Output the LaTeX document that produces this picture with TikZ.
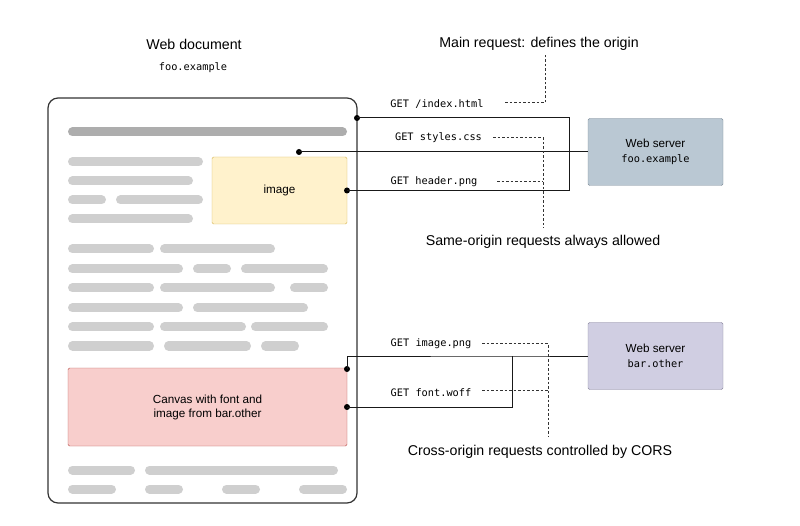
\documentclass[tikz,border=0pt]{standalone}
\usepackage{fontspec}
\setmainfont{Liberation Sans}
\setmonofont{DejaVu Sans Mono}
\usetikzlibrary{positioning,calc}

\definecolor{barlight}{HTML}{CFCFCF}
\definecolor{bardark}{HTML}{ADADAD}
\definecolor{imgfill}{HTML}{FFF2CC}
\definecolor{imgline}{HTML}{D6B656}
\definecolor{cvsfill}{HTML}{F8CECC}
\definecolor{cvsline}{HTML}{B85450}
\definecolor{foofill}{HTML}{BAC8D3}
\definecolor{fooline}{HTML}{7F8C99}
\definecolor{barfill}{HTML}{D0CEE2}
\definecolor{barline}{HTML}{8A879E}

\begin{document}
\begin{tikzpicture}[x=1pt,y=-1pt,
  ttl/.style={font=\fontsize{14.2}{16}\selectfont},
  mono/.style={font=\fontsize{10.3}{12}\ttfamily},
  box/.style={draw,rounded corners=1.5pt,minimum width=135pt,minimum height=67pt,
    align=center,font=\fontsize{11.7}{14}\selectfont},
  dot/.style={circle,fill=black,inner sep=0pt,minimum size=6pt},
  wire/.style={line width=1pt,draw=black!90},
  note/.style={line width=1pt,draw=black!80,dash pattern=on 2.5pt off 2pt},
  ln/.style={line width=9pt,line cap=round,draw=barlight}]

  \useasboundingbox (0,0) rectangle (800,526);

  % the page
  \node[draw=black!80,line width=1.2pt,rounded corners=10pt,
    minimum width=309pt,minimum height=405pt] (doc) at (202.5,300.5) {};
  \node[ttl] (tdoc) at (194,44) {Web document};
  \node[mono] (tdocurl) at (193,68) {foo.example};

  \draw[ln,draw=bardark] (72.5,132) -- (342.5,132);
  \foreach \y/\a/\b in {162/68/203, 181/68/193, 200/68/106, 200/116/203, 219/68/193,
      249/68/154, 249/160/275, 269/68/183, 269/193/231, 269/241/328,
      288/68/154, 288/160/275, 288/290/328, 308/68/183, 308/193/308,
      327/68/154, 327/160/246, 327/251/328, 346/68/154, 346/164/251, 346/261/299,
      470/68/135, 470/145/338, 489/68/116, 489/145/183, 489/222/260, 489/299/347}
    \draw[ln] (\a+4.5,\y) -- (\b-4.5,\y);

  \node[box,fill=imgfill,draw=imgline] (img) at (279.5,190.5) {image};
  \node[box,fill=cvsfill,draw=cvsline,minimum width=279pt,minimum height=78pt]
    (cvs) at (207.5,407) {Canvas with font and\\image from bar.other};

  % servers
  \node[box,fill=foofill,draw=fooline] (srvfoo) at (655.5,152)
    {Web server\\[1pt]\texttt{\fontsize{10.3}{12}\selectfont foo.example}};
  \node[box,fill=barfill,draw=barline] (srvbar) at (655.5,356)
    {Web server\\[1pt]\texttt{\fontsize{10.3}{12}\selectfont bar.other}};

  % same origin
  \node[dot] (didx) at (357,118) {};
  \node[dot] (dcss) at (299,152) {};
  \node[dot] (dhdr) at (347,190.5) {};
  \coordinate (jfoo) at (569,152);
  \draw[wire] (didx.center) -| (jfoo);
  \draw[wire] (dhdr.center) -| (jfoo);
  \draw[wire] (dcss.center) -- (srvfoo.west);

  \node[mono] (lidx) at (437,104) {GET /index.html};
  \node[mono] (lcss) at (438.5,138) {GET styles.css};
  \node[mono] (lhdr) at (434,182) {GET header.png};

  % cross origin
  \node[dot] (dimg) at (347,369) {};
  \node[dot] (dfnt) at (347,407) {};
  \coordinate (jbar) at (512,356);
  \draw[wire] (dimg.center) |- (jbar) -- (srvbar.west);
  \draw[wire] (dfnt.center) -| (jbar);

  \node[mono] (limg) at (431,344) {GET image.png};
  \node[mono] (lfnt) at (431,393) {GET font.woff};

  % notes
  \node[ttl] (tmain) at (539,44) {Main request: defines the origin};
  \node[ttl] (tsame) at (543,242) {Same-origin requests always allowed};
  \node[ttl] (tcors) at (540,452) {Cross-origin requests controlled by CORS};

  \coordinate (kidx) at (505,103);
  \coordinate (kmain) at (545,55);
  \draw[note] (kidx) -| (kmain);
  \coordinate (kcss) at (493,138);
  \coordinate (khdr) at (497,182);
  \coordinate (ksame) at (543,228);
  \draw[note] (kcss) -| (ksame);
  \draw[note] (khdr) -- (khdr -| ksame);
  \coordinate (kimg) at (482,344);
  \coordinate (kfnt) at (482,390);
  \coordinate (kcors) at (548,436);
  \draw[note] (kimg) -| (kcors);
  \draw[note] (kfnt) -- (kfnt -| kcors);
\end{tikzpicture}
\end{document}
